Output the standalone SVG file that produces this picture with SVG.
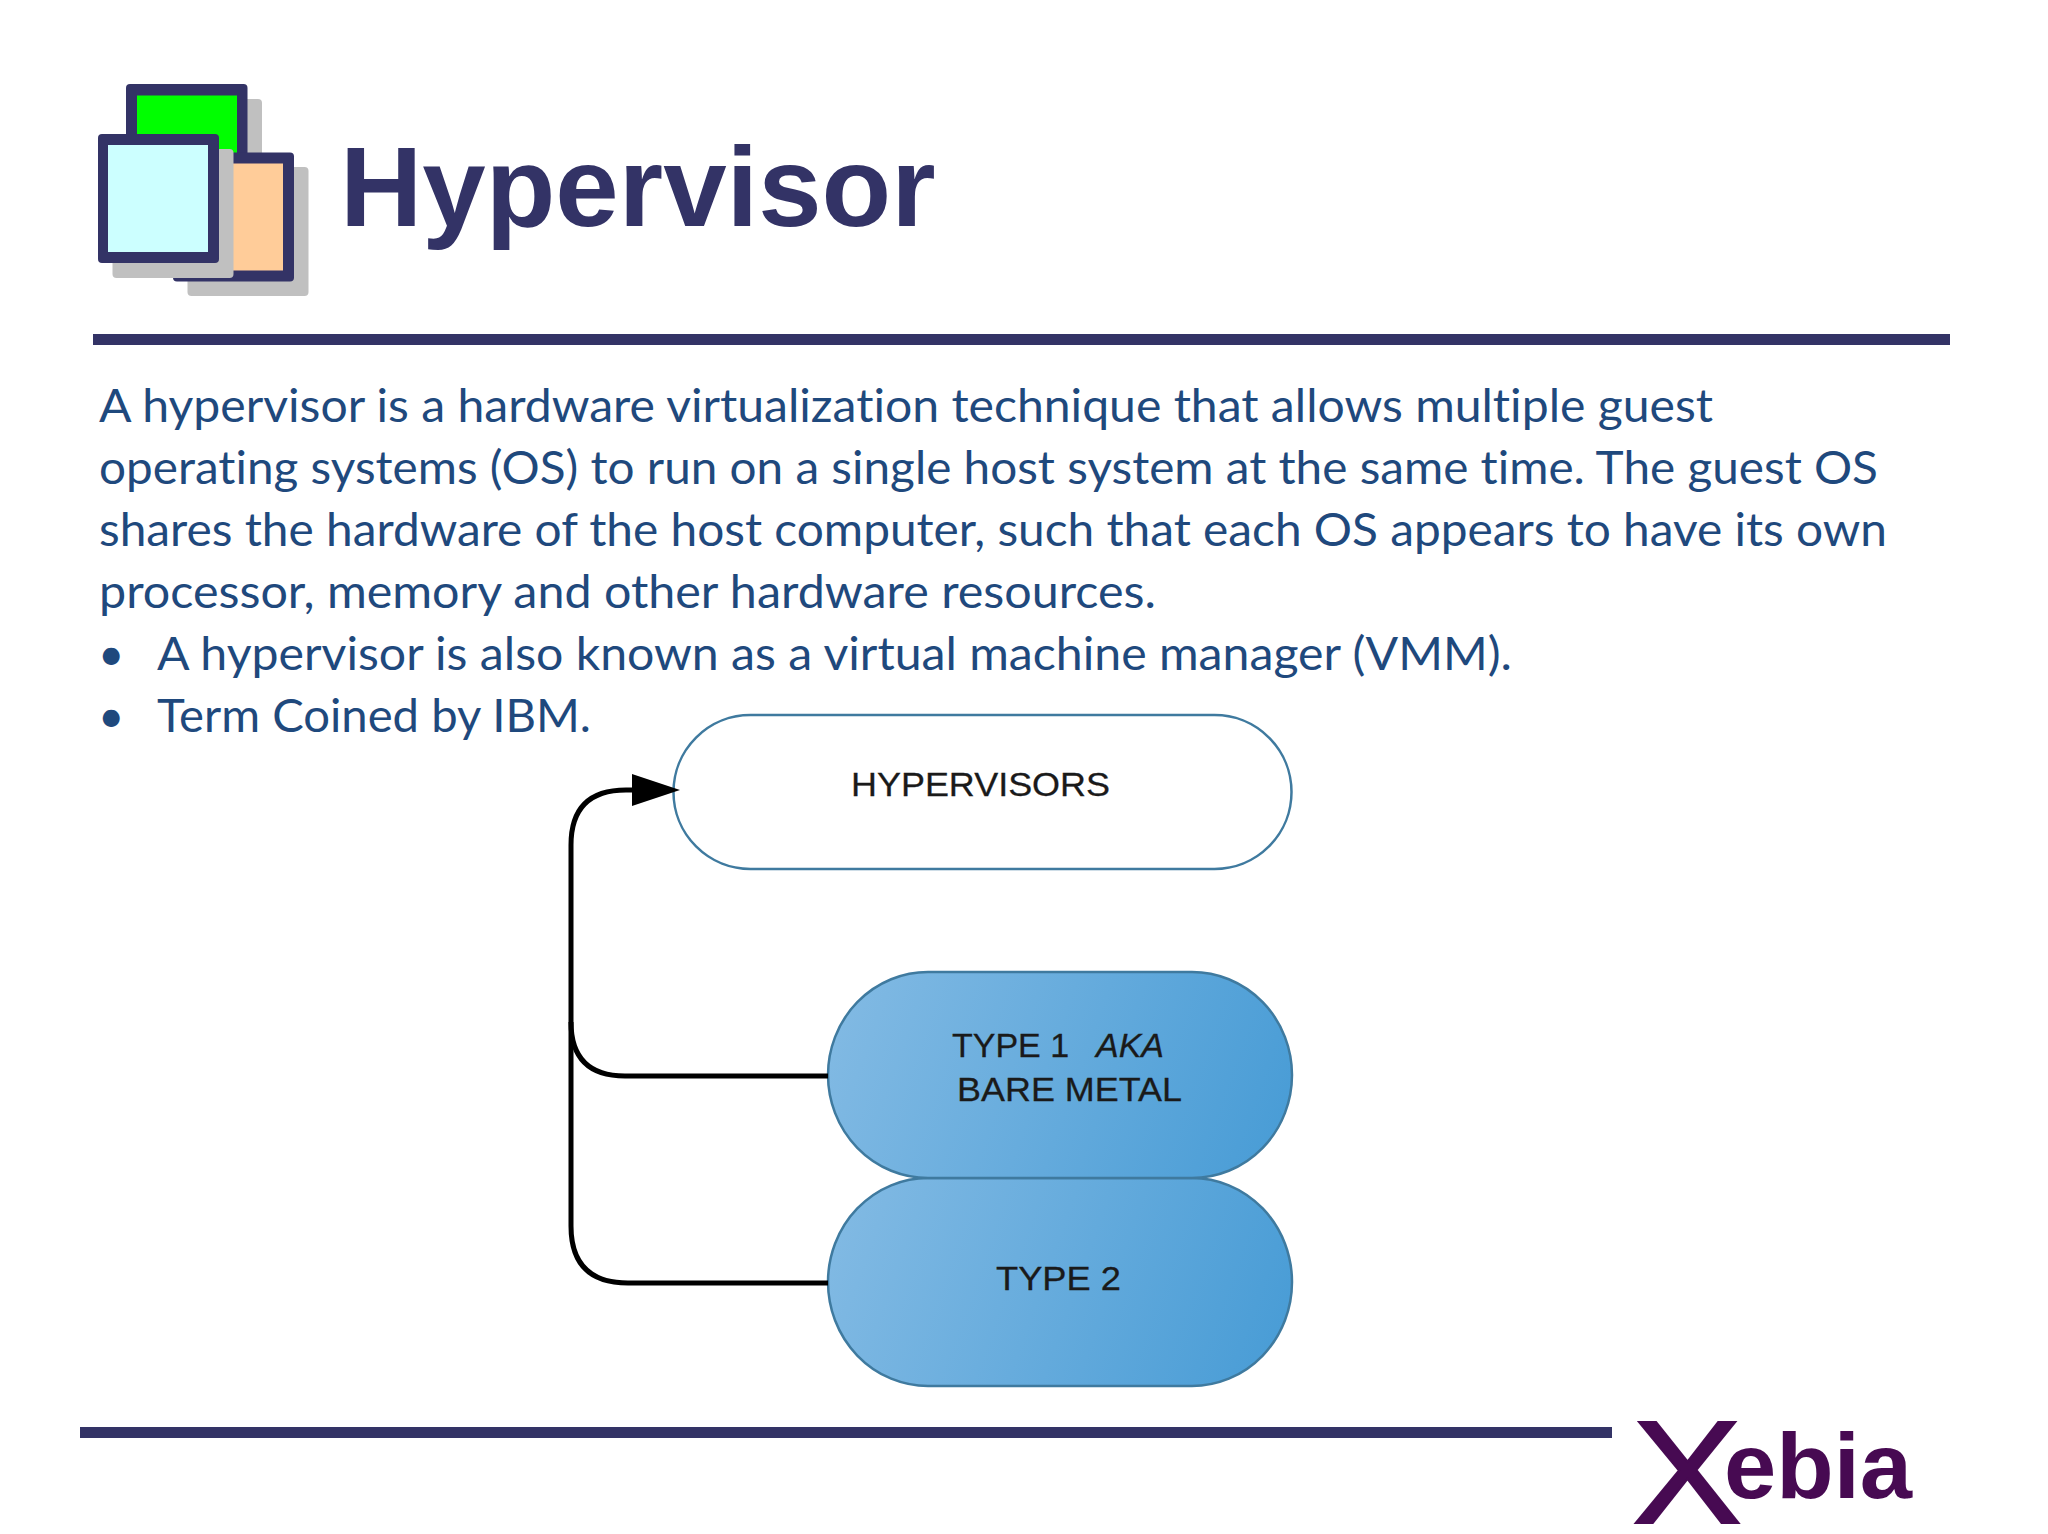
<svg xmlns="http://www.w3.org/2000/svg" width="2048" height="1534" viewBox="0 0 2048 1534">
<style>
.frame{fill:#333366}
.shade{fill:#c0c0c0}
.bar{fill:#333366}
.body{font-family:"Lato","Liberation Sans",sans-serif;font-size:45.5px;fill:#1f497d;font-variant-ligatures:none}
.lbl{font-family:"Liberation Sans",Arial,sans-serif;font-size:34px;fill:#1a1a1a;stroke:#1a1a1a;stroke-width:0.3}
.pill{stroke:#3f7a9f;stroke-width:2.5}
.conn{fill:none;stroke:#000;stroke-width:5}
</style>
<defs>
<linearGradient id="blue" x1="0" y1="0.42" x2="1" y2="0.58">
<stop offset="0" stop-color="#80b9e3"/><stop offset="1" stop-color="#4a9dd6"/>
</linearGradient>
</defs>
<rect width="2048" height="1534" fill="#fff"/>
<g id="icon">
<rect class="shade" x="141" y="99" width="121" height="129" rx="4"/>
<rect class="frame" x="126" y="84" width="121.500" height="129" rx="4"/>
<rect x="137" y="95.500" width="100" height="107" fill="#00ff00"/>
<rect class="shade" x="187.500" y="167" width="121" height="129" rx="4"/>
<rect class="frame" x="173" y="152.500" width="121" height="129" rx="4"/>
<rect x="183" y="163.500" width="100" height="107" fill="#ffcc99"/>
<rect class="shade" x="112.500" y="149" width="121" height="129" rx="4"/>
<rect class="frame" x="98" y="134" width="121" height="129" rx="4"/>
<rect x="108" y="145" width="100" height="107" fill="#ccffff"/>
</g>
<text id="title" x="340" y="226" font-family="'Liberation Sans',Arial,sans-serif" font-weight="700" font-size="114" fill="#333366">Hypervisor</text>
<rect id="rule-top" class="bar" x="93" y="334" width="1857" height="11"/>
<g id="body">
<text class="body" x="99" y="422" textLength="1614" lengthAdjust="spacingAndGlyphs">A hypervisor is a hardware virtualization technique that allows multiple guest</text>
<text class="body" x="99" y="484" textLength="1779" lengthAdjust="spacingAndGlyphs">operating systems (OS) to run on a single host system at the same time. The guest OS</text>
<text class="body" x="99" y="546" textLength="1788" lengthAdjust="spacingAndGlyphs">shares the hardware of the host computer, such that each OS appears to have its own</text>
<text class="body" x="99" y="608" textLength="1057" lengthAdjust="spacingAndGlyphs">processor, memory and other hardware resources.</text>
<text class="body" x="98" y="670">•</text>
<text class="body" x="157" y="670" textLength="1355" lengthAdjust="spacingAndGlyphs">A hypervisor is also known as a virtual machine manager (VMM).</text>
<text class="body" x="98" y="732">•</text>
<text class="body" x="157" y="732" textLength="434" lengthAdjust="spacingAndGlyphs">Term Coined by IBM.</text>
</g>
<g id="hypervisors">
<rect class="pill" x="673.500" y="715" width="618" height="154" rx="77" ry="77" fill="#fff"/>
<text class="lbl" x="851" y="796" textLength="259" lengthAdjust="spacingAndGlyphs">HYPERVISORS</text>
</g>
<g id="type2">
<rect class="pill" x="828" y="1178" width="464" height="208" rx="100" ry="104" fill="url(#blue)"/>
<text class="lbl" x="996" y="1290" textLength="125" lengthAdjust="spacingAndGlyphs">TYPE 2</text>
</g>
<g id="type1">
<rect class="pill" x="828" y="972" width="464" height="206" rx="100" ry="103" fill="url(#blue)"/>
<text class="lbl" x="952" y="1057">TYPE 1<tspan x="1096" font-style="italic">AKA</tspan></text>
<text class="lbl" x="957" y="1101" textLength="225" lengthAdjust="spacingAndGlyphs">BARE METAL</text>
</g>
<g id="connectors">
<path class="conn" d="M828 1283H628Q571 1283 571 1226V845Q571 790 626 790H640"/>
<path class="conn" d="M828 1076H625Q571 1076 571 1022"/>
<polygon points="632,774 680,790 632,806" fill="#000"/>
</g>
<rect id="rule-bottom" class="bar" x="80" y="1427" width="1532" height="11"/>
<g id="logo" fill="#470a52">
<text x="1632" y="1523" font-family="'Liberation Sans',Arial,sans-serif" font-size="147" textLength="110" lengthAdjust="spacingAndGlyphs" stroke="#470a52" stroke-width="2">X</text>
<text x="1724" y="1498" font-family="'Liberation Sans',Arial,sans-serif" font-weight="700" font-size="92" textLength="188" lengthAdjust="spacingAndGlyphs">ebia</text>
</g>
</svg>
